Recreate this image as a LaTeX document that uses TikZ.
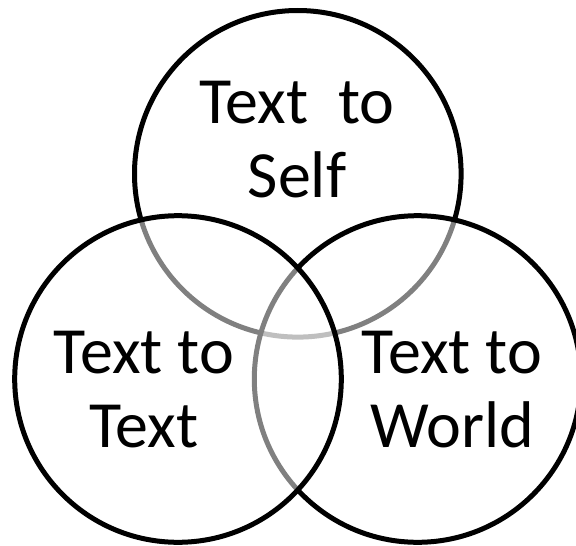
\documentclass[tikz,border=0pt]{standalone}
\usepackage{fontspec}
\setmainfont{Carlito}
\begin{document}
\begin{tikzpicture}[x=1pt,y=-1pt,
  vcirc/.style={circle,draw=black,line width=5pt,fill=white,fill opacity=0.5,
    minimum size=326.6pt,inner sep=0pt,outer sep=0pt},
  vlabel/.style={align=center,inner sep=0pt,anchor=base,
    font=\fontsize{66}{73.5}\selectfont}]
\useasboundingbox (0,0) rectangle (576,546);
\node[vcirc] (self) at (297.8,173.8) {};
\node[vcirc] (world) at (417.6,379) {};
\node[vcirc] (ttext) at (178,379) {};
\node[vlabel] (lself) at (297,197) {Text~ to\\Self};
\node[vlabel] (lttext) at (144,447) {Text to\\Text};
\node[vlabel] (lworld) at (452,447) {Text to\\World};
\end{tikzpicture}
\end{document}
